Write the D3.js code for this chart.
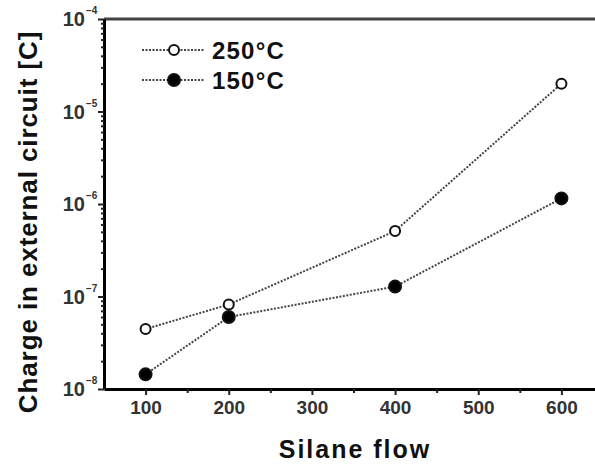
<!DOCTYPE html>
<html>
<head>
<meta charset="utf-8">
<script src="https://cdn.jsdelivr.net/npm/d3@7"></script>
<style>
  body { margin: 0; background: #fff; }
  svg { display: block; font-family: "Liberation Sans", Arial, sans-serif; }
</style>
</head>
<body>
<script>
// データ
var flows = [100, 200, 400, 600];
var series_names = ["250°C", "150°C"];
var charge_250 = [4.45e-8, 8.2e-8, 5.1e-7, 2.0e-5];
var charge_150 = [1.44e-8, 6.0e-8, 1.28e-7, 1.15e-6];
var x_ticks = [100, 200, 300, 400, 500, 600];
var y_decades = [1e-8, 1e-7, 1e-6, 1e-5, 1e-4];

var W = 595, H = 464;
var svg = d3.select("body").append("svg")
	.attr("width", W)
	.attr("height", H);

var x = d3.scaleLinear().domain([50, 650]).range([104, 603]);
var y = d3.scaleLog().domain([1e-8, 1e-4]).range([389, 19]);

// 枠線(上)
svg.append("line")
	.attr("x1", x(50)).attr("x2", W)
	.attr("y1", y(1e-4)).attr("y2", y(1e-4))
	.attr("stroke", "#444").attr("stroke-width", 3);

// X軸
var xMinor = d3.range(150, 650, 100);
var xAxis = svg.append("g")
	.attr("transform", "translate(0," + y(1e-8) + ")")
	.call(d3.axisBottom(x).tickValues(x_ticks.concat(xMinor)).tickSize(6).tickSizeOuter(0)
		.tickFormat(function(d){ return x_ticks.indexOf(d) >= 0 ? d : ""; }));
xAxis.select(".domain").attr("stroke", "#000").attr("stroke-width", 3);
xAxis.selectAll(".tick line").attr("stroke", "#222").attr("stroke-width", 2)
	.attr("y2", function(d){ return x_ticks.indexOf(d) >= 0 ? 6 : 4; });
xAxis.selectAll(".tick text")
	.attr("y", 12)
	.attr("fill", "#333")
	.style("font-size", "19px")
	.style("font-weight", "bold");

// Y軸(対数)
var yAll = [];
y_decades.forEach(function(d, i){
	if(i < y_decades.length - 1){
		for(var k = 1; k < 10; k++) yAll.push(d * k);
	}else{
		yAll.push(d);
	}
});
var yAxis = svg.append("g")
	.attr("transform", "translate(" + x(50) + ",0)")
	.call(d3.axisLeft(y).tickValues(yAll).tickSize(6).tickSizeOuter(0).tickFormat(""));
yAxis.select(".domain").attr("stroke", "#000").attr("stroke-width", 3);
yAxis.selectAll(".tick line").attr("stroke", "#222").attr("stroke-width", 2)
	.attr("x2", function(d){
		var e = Math.log10(d);
		return Math.abs(e - Math.round(e)) < 1e-6 ? -6 : -3;
	});

// Y軸ラベル 10^n
y_decades.forEach(function(d){
	var exp = Math.round(Math.log10(d));
	var t = svg.append("text")
		.attr("x", 85)
		.attr("y", y(d) + 7)
		.attr("text-anchor", "end")
		.attr("fill", "#333")
		.style("font-size", "20px")
		.style("font-weight", "bold")
		.text("10");
	svg.append("text")
		.attr("x", 86)
		.attr("y", y(d) - 5)
		.attr("fill", "#333")
		.style("font-size", "10px")
		.style("font-weight", "bold")
		.text("\u2212" + Math.abs(exp));
});

// 軸タイトル
svg.append("text")
	.attr("x", 355)
	.attr("y", 458)
	.attr("text-anchor", "middle")
	.style("font-size", "25px")
	.style("font-weight", "bold")
	.style("letter-spacing", "2px")
	.attr("fill", "#111")
	.text("Silane flow");
svg.append("text")
	.attr("transform", "translate(37,222) rotate(-90)")
	.attr("text-anchor", "middle")
	.style("font-size", "26px")
	.style("font-weight", "bold")
	.style("letter-spacing", "0.9px")
	.attr("fill", "#111")
	.text("Charge in external circuit [C]");

// 折れ線
var line = d3.line()
	.x(function(d, i){ return x(flows[i]); })
	.y(function(d){ return y(d); });
var all_series = [
	{name: series_names[0], values: charge_250, fill: "#fff", r: 5},
	{name: series_names[1], values: charge_150, fill: "#000", r: 6}
];
all_series.forEach(function(s){
	svg.append("path")
		.datum(s.values)
		.attr("d", line)
		.attr("fill", "none")
		.attr("stroke", "#444")
		.attr("stroke-width", 2)
		.attr("stroke-dasharray", "2,1.5");
});
all_series.forEach(function(s){
	svg.selectAll(null)
		.data(s.values)
		.enter().append("circle")
		.attr("cx", function(d, i){ return x(flows[i]); })
		.attr("cy", function(d){ return y(d); })
		.attr("r", s.r)
		.attr("fill", s.fill)
		.attr("stroke", "#111")
		.attr("stroke-width", 2);
});

// 凡例
all_series.forEach(function(s, i){
	var ly = 50 + i * 30;
	svg.append("line")
		.attr("x1", 142).attr("x2", 205)
		.attr("y1", ly).attr("y2", ly)
		.attr("stroke", "#444").attr("stroke-width", 2)
		.attr("stroke-dasharray", "2,1.5");
	svg.append("circle")
		.attr("cx", 174).attr("cy", ly).attr("r", s.r)
		.attr("fill", s.fill).attr("stroke", "#111").attr("stroke-width", 2);
	svg.append("text")
		.attr("x", 212).attr("y", ly + 8.5)
		.style("font-size", "24px")
		.style("font-weight", "bold")
		.style("letter-spacing", "1.2px")
		.attr("fill", "#111")
		.text(s.name);
});
</script>
</body>
</html>
